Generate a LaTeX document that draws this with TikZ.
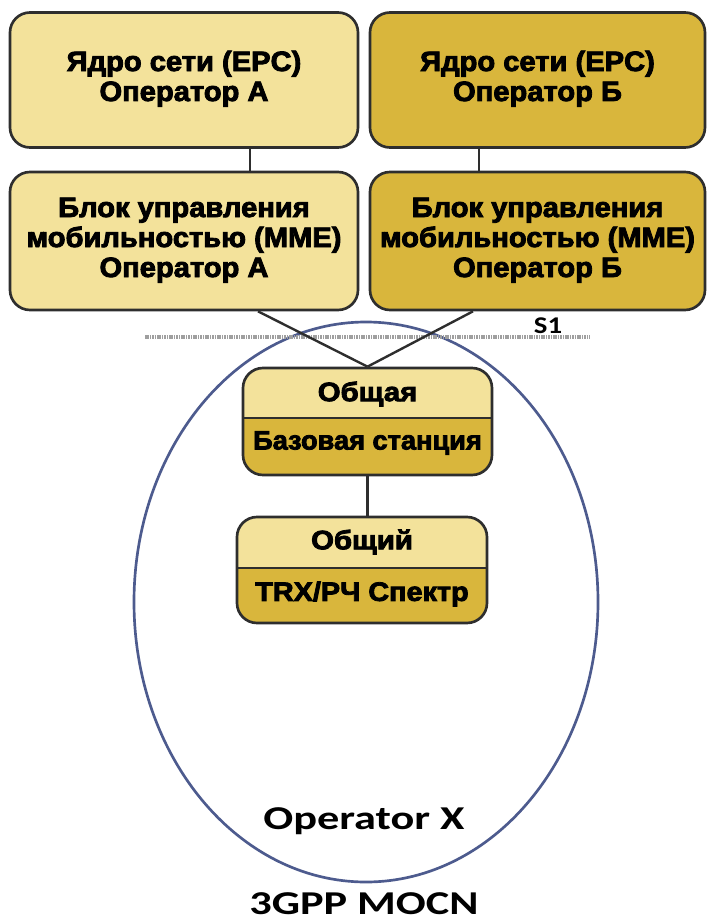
\documentclass[tikz,border=0pt]{standalone}
\usepackage{fontspec}
\setmainfont{Liberation Sans}
\newfontfamily\heavy{Liberation Sans}[UprightFeatures={FakeBold=3}, BoldFeatures={FakeBold=3}]
\newfontfamily\calib{Carlito}
\usetikzlibrary{shapes.geometric,calc}
\definecolor{lightY}{HTML}{F3E29B}
\definecolor{darkY}{HTML}{D9B63C}
\definecolor{edgeC}{HTML}{2E2E2E}
\definecolor{ellC}{HTML}{4D5B8E}
\newcommand{\boxtext}[2][1.04]{\scalebox{#1}[1]{\begin{tabular}{@{}c@{}}#2\end{tabular}}}
\tikzset{
  ybox/.style={draw=edgeC, line width=2pt, rounded corners=15pt, inner sep=0pt,
    font=\heavy\bfseries\fontsize{21}{22.5}\selectfont, align=center},
  lightbox/.style={ybox, fill=lightY},
  darkbox/.style={ybox, fill=darkY},
  conn/.style={draw=edgeC, line width=1.8pt},
  lbl/.style={font=\heavy\bfseries\fontsize{20}{22}\selectfont, inner sep=0pt}
}
\begin{document}
\begin{tikzpicture}[x=0.75pt,y=-0.75pt]
\useasboundingbox (0,0) rectangle (717,924);
% ellipse
\node[ellipse, draw=ellC, line width=2pt, minimum width=348pt, minimum height=420pt, inner sep=0pt] (opx) at (366,602) {};
% S1 dashed line
\coordinate (s1l) at (145,337);
\coordinate (s1r) at (590,337);
\draw[gray!75, line width=2.4pt, dash pattern=on 1.2pt off 0.6pt] (s1l) -- (s1r);
\node[font=\calib\bfseries\fontsize{18}{18}\selectfont, anchor=base, inner sep=0pt] (s1) at (548,333) {\scalebox{1.2}[1]{S1}};
% top boxes
\node[lightbox, minimum width=261pt, minimum height=101.25pt] (epcA) at (184,80)
  {\boxtext{Ядро сети (EPC)\\Оператор А}};
\node[darkbox, minimum width=251.25pt, minimum height=101.25pt] (epcB) at (537.5,80)
  {\boxtext{Ядро сети (EPC)\\Оператор Б}};
\node[lightbox, minimum width=261pt, minimum height=103.5pt] (mmeA) at (184,241)
  {\boxtext{Блок управления\\мобильностью (MME)\\Оператор А}};
\node[darkbox, minimum width=251.25pt, minimum height=103.5pt] (mmeB) at (537.5,241)
  {\boxtext{Блок управления\\мобильностью (MME)\\Оператор Б}};
% base station split box
\begin{scope}
  \clip[rounded corners=15pt] (243,368) rectangle (492,475);
  \fill[lightY] (243,368) rectangle (492,418);
  \fill[darkY] (243,418) rectangle (492,475);
\end{scope}
\draw[edgeC, line width=2pt] (243,418) -- (492,418);
\node[ybox, minimum width=186.75pt, minimum height=80.25pt] (bs) at (367.5,421.5) {};
\node[lbl] (bsTop) at (367.5,394) {\scalebox{1.1}[1]{Общая}};
\node[lbl] (bsBot) at (367.5,443) {\scalebox{1.02}[1]{Базовая станция}};
% TRX split box
\begin{scope}
  \clip[rounded corners=15pt] (237,517) rectangle (487,623);
  \fill[lightY] (237,517) rectangle (487,568);
  \fill[darkY] (237,568) rectangle (487,623);
\end{scope}
\draw[edgeC, line width=2pt] (237,568) -- (487,568);
\node[ybox, minimum width=187.5pt, minimum height=79.5pt] (trx) at (362,570) {};
\node[lbl] (trxTop) at (362,542) {\scalebox{1.1}[1]{Общий}};
\node[lbl] (trxBot) at (362,594) {\scalebox{1.08}[1]{TRX/РЧ Спектр}};
% connectors
\draw[conn] ([xshift=49.5pt]epcA.south) -- ([xshift=49.5pt]mmeA.north);
\draw[conn] ([xshift=-43.9pt]epcB.south) -- ([xshift=-43.9pt]mmeB.north);
\draw[conn] ([xshift=55.5pt]mmeA.south) -- (bs.north);
\draw[conn] ([xshift=-48.4pt]mmeB.south) -- (bs.north);
\draw[conn] (bs.south) -- (bs.south |- trx.north);
% labels
\node[font=\calib\bfseries\fontsize{25}{25}\selectfont, anchor=base, inner sep=0pt] (opxLabel) at (364,829) {\scalebox{1.33}[1]{Operator X}};
\node[font=\calib\bfseries\fontsize{25}{25}\selectfont, anchor=base, inner sep=0pt] (mocn) at (364,914) {\scalebox{1.33}[1]{3GPP MOCN}};
\end{tikzpicture}
\end{document}
